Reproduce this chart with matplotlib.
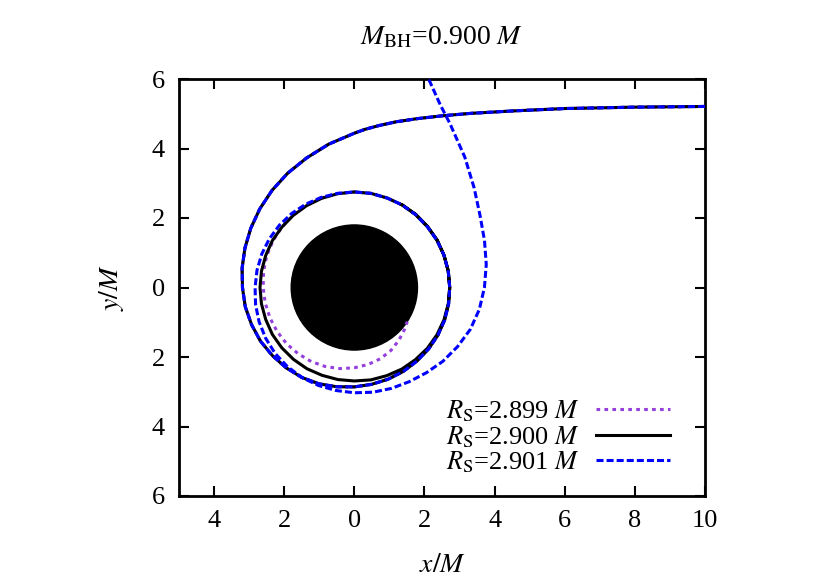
import numpy as np
import matplotlib
matplotlib.use('Agg')
import matplotlib.pyplot as plt
from matplotlib.patches import Circle

plt.rcParams['font.family'] = ['Liberation Serif', 'DejaVu Serif']
plt.rcParams['mathtext.fontset'] = 'stix'

# horizon / disk radius
disk_radius = 1.8

# incoming part shared by all three orbits (x, y in units of M)
incoming_x = [10.0, 8.0, 6.0, 4.5, 3.3, 2.5, 1.8, 1.2, 0.7, 0.3]
incoming_y = [5.21, 5.19, 5.15, 5.08, 5.01, 4.94, 4.86, 4.77, 4.66, 4.55]

# first loop, shared (polar angle in degrees, radius)
shared_phi = [90, 100, 110, 120, 130, 140, 150, 160, 170, 180, 190, 200, 210, 220,
              230, 240, 250, 260, 270, 280, 290, 300, 310, 320, 330, 340, 350, 360,
              370, 380, 390, 400, 410, 420, 430, 440, 450]
shared_r = [4.44, 4.19, 3.97, 3.80, 3.65, 3.52, 3.41, 3.32, 3.25, 3.19, 3.16, 3.12,
            3.09, 3.05, 3.02, 2.99, 2.95, 2.90, 2.86, 2.83, 2.81, 2.79, 2.77, 2.76,
            2.75, 2.74, 2.73, 2.72, 2.72, 2.72, 2.72, 2.72, 2.73, 2.74, 2.74, 2.75, 2.75]

# after the first loop the three orbits split
purple_phi = [450, 460, 470, 480, 490, 500, 510, 520, 530, 540, 550, 560, 570, 580,
              590, 600, 610, 620, 630, 640, 650, 660, 670, 680, 687]
purple_r = [2.75, 2.75, 2.74, 2.73, 2.72, 2.70, 2.68, 2.66, 2.63, 2.60, 2.58, 2.56,
            2.54, 2.52, 2.49, 2.46, 2.42, 2.37, 2.31, 2.25, 2.18, 2.09, 1.98, 1.87, 1.80]

black_phi = [450, 460, 470, 480, 490, 500, 510, 520, 530, 540, 550, 560, 570, 580,
             590, 600, 610, 620, 630, 640, 650, 660, 670, 680, 690, 700, 710, 720,
             730, 740, 750, 760, 770, 780]
black_r = [2.75, 2.74, 2.73, 2.72, 2.71, 2.70, 2.70, 2.69, 2.69, 2.69, 2.69, 2.69,
           2.70, 2.70, 2.70, 2.70, 2.69, 2.69, 2.69, 2.70, 2.70, 2.71, 2.71, 2.72,
           2.72, 2.72, 2.72, 2.72, 2.72, 2.72, 2.73, 2.73, 2.74, 2.74]

blue_phi = [450, 460, 470, 480, 490, 500, 510, 520, 530, 540, 550, 560, 570, 580,
            590, 600, 610, 620, 630, 640, 650, 660, 670, 680, 690, 700, 710, 720,
            730, 740, 750, 760, 770, 780, 785, 790, 795]
blue_r = [2.75, 2.75, 2.76, 2.77, 2.78, 2.79, 2.80, 2.81, 2.82, 2.83, 2.86, 2.89,
          2.92, 2.95, 2.97, 2.99, 3.00, 3.01, 3.03, 3.06, 3.09, 3.13, 3.20, 3.30,
          3.40, 3.52, 3.62, 3.71, 3.82, 3.95, 4.14, 4.46, 4.90, 5.45, 5.80, 6.30, 6.90]

labels = [r'$R_{\rm S}$=2.899 $M$', r'$R_{\rm S}$=2.900 $M$', r'$R_{\rm S}$=2.901 $M$']

xticks = [-4, -2, 0, 2, 4, 6, 8, 10]
xtick_labels = ['4', '2', '0', '2', '4', '6', '8', '10']
yticks = [-6, -4, -2, 0, 2, 4, 6]
ytick_labels = ['6', '4', '2', '0', '2', '4', '6']


def orbit(phi, r):
    phi_all = np.radians(np.array(shared_phi + phi[1:], dtype=float))
    r_all = np.array(shared_r + r[1:], dtype=float)
    x = np.concatenate([incoming_x, r_all * np.cos(phi_all)])
    y = np.concatenate([incoming_y, r_all * np.sin(phi_all)])
    return x, y


fig = plt.figure(figsize=(8.3, 5.82), dpi=100)
ax = fig.add_axes([179 / 830, 1 - 496 / 582, 526 / 830, 417 / 582])

ax.add_patch(Circle((0, 0), disk_radius, color='black', zorder=1))

lw = 2.2
x, y = orbit(purple_phi, purple_r)
ax.plot(x, y, color='#9440dd', lw=lw, linestyle=(0, (1.2, 1.4)), label=labels[0], zorder=2)
x, y = orbit(black_phi, black_r)
ax.plot(x, y, color='black', lw=lw, label=labels[1], zorder=3)
x, y = orbit(blue_phi, blue_r)
ax.plot(x, y, color='#0000ff', lw=lw, linestyle=(0, (2.3, 1.0)), label=labels[2], zorder=4)

ax.set_xlim(-5, 10)
ax.set_ylim(-6, 6)
ax.set_xticks(xticks)
ax.set_xticklabels(xtick_labels)
ax.set_yticks(yticks)
ax.set_yticklabels(ytick_labels)
ax.tick_params(direction='in', length=7, width=1.5, top=True, right=True,
               labelsize=19, pad=10)
for s in ax.spines.values():
    s.set_linewidth(2.0)

ax.set_xlabel(r'$x/M$', fontsize=20)
ax.set_ylabel(r'$y/M$', fontsize=20)
ax.xaxis.set_label_coords(0.5, -0.137)
ax.yaxis.set_label_coords(-0.10, 0.5)

fig.text(442 / 830, 1 - 38 / 582, r'$M_{\rm BH}$=0.900 $M$', fontsize=20,
         ha='center', va='center')

ax.legend(loc='lower right', frameon=False, fontsize=19, markerfirst=False,
          handlelength=2.8, labelspacing=0.0, handletextpad=0.6,
          borderaxespad=0.5, bbox_to_anchor=(0.978, -0.007))

fig.savefig('out.png', dpi=100)
